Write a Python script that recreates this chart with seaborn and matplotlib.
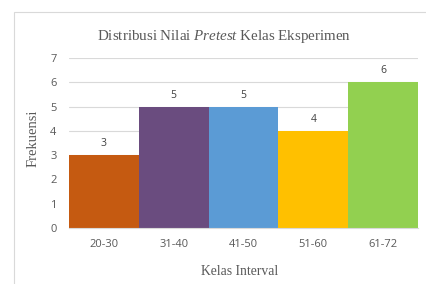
import matplotlib.pyplot as plt
import seaborn as sns
import pandas as pd
from matplotlib.patches import Rectangle

kelas = ["20-30", "31-40", "41-50", "51-60", "61-72"]
frekuensi = [3, 5, 5, 4, 6]
warna = ["#C55A11", "#6A4C7F", "#5B9BD5", "#FFC000", "#92D050"]


def main():
    df = pd.DataFrame({"Kelas Interval": kelas, "Frekuensi": frekuensi})

    sns.set_style("white")
    plt.rcParams["font.family"] = ["Open Sans", "DejaVu Sans"]
    plt.rcParams["mathtext.fontset"] = "custom"
    plt.rcParams["mathtext.rm"] = "Liberation Serif"
    plt.rcParams["mathtext.it"] = "Liberation Serif:italic"

    fig = plt.figure(figsize=(4.27, 2.84), dpi=100)
    # light frame around the chart area
    fig.patches.append(Rectangle((14 / 427, -0.1), 1.2, 1.1 - 12 / 284, transform=fig.transFigure,
                                 facecolor="none", edgecolor="#D9D9D9", linewidth=0.8, zorder=-1))
    ax = fig.add_axes([69 / 427, 56 / 284, 349 / 427, 170 / 284])
    ax.patch.set_alpha(0)

    sns.barplot(data=df, x="Kelas Interval", y="Frekuensi", hue="Kelas Interval",
                palette=warna, width=1.0, legend=False, ax=ax, saturation=1, linewidth=0)

    for i, v in enumerate(frekuensi):
        ax.text(i, v + 0.25, str(v), ha="center", va="bottom", fontsize=7.5, color="#404040")

    ax.set_ylim(0, 7)
    ax.set_xlim(-0.5, 4.5)
    ax.set_yticks(range(0, 8))
    ax.set_axisbelow(True)
    ax.yaxis.grid(True, color="#D9D9D9", linewidth=0.8)
    for s in ["top", "right", "left"]:
        ax.spines[s].set_visible(False)
    ax.spines["bottom"].set_color("#D9D9D9")
    ax.tick_params(axis="both", length=0, labelsize=8, colors="#595959", pad=8)
    ax.tick_params(axis="y", pad=9)

    ax.set_xlabel("Kelas Interval", fontsize=9.8, family="Liberation Serif", color="#595959")
    ax.set_ylabel("Frekuensi", fontsize=10.5, family="Liberation Serif", color="#595959")
    ax.xaxis.set_label_coords(0.49, -0.22)
    ax.yaxis.set_label_coords(-0.083, 0.53)
    fig.text(224 / 427, 1 - 36 / 284, r"Distribusi Nilai $\mathit{Pretest}$ Kelas Eksperimen",
             ha="center", va="center", fontsize=10.8, family="Liberation Serif", color="#595959")

    plt.savefig("out.png", dpi=100)


main()
